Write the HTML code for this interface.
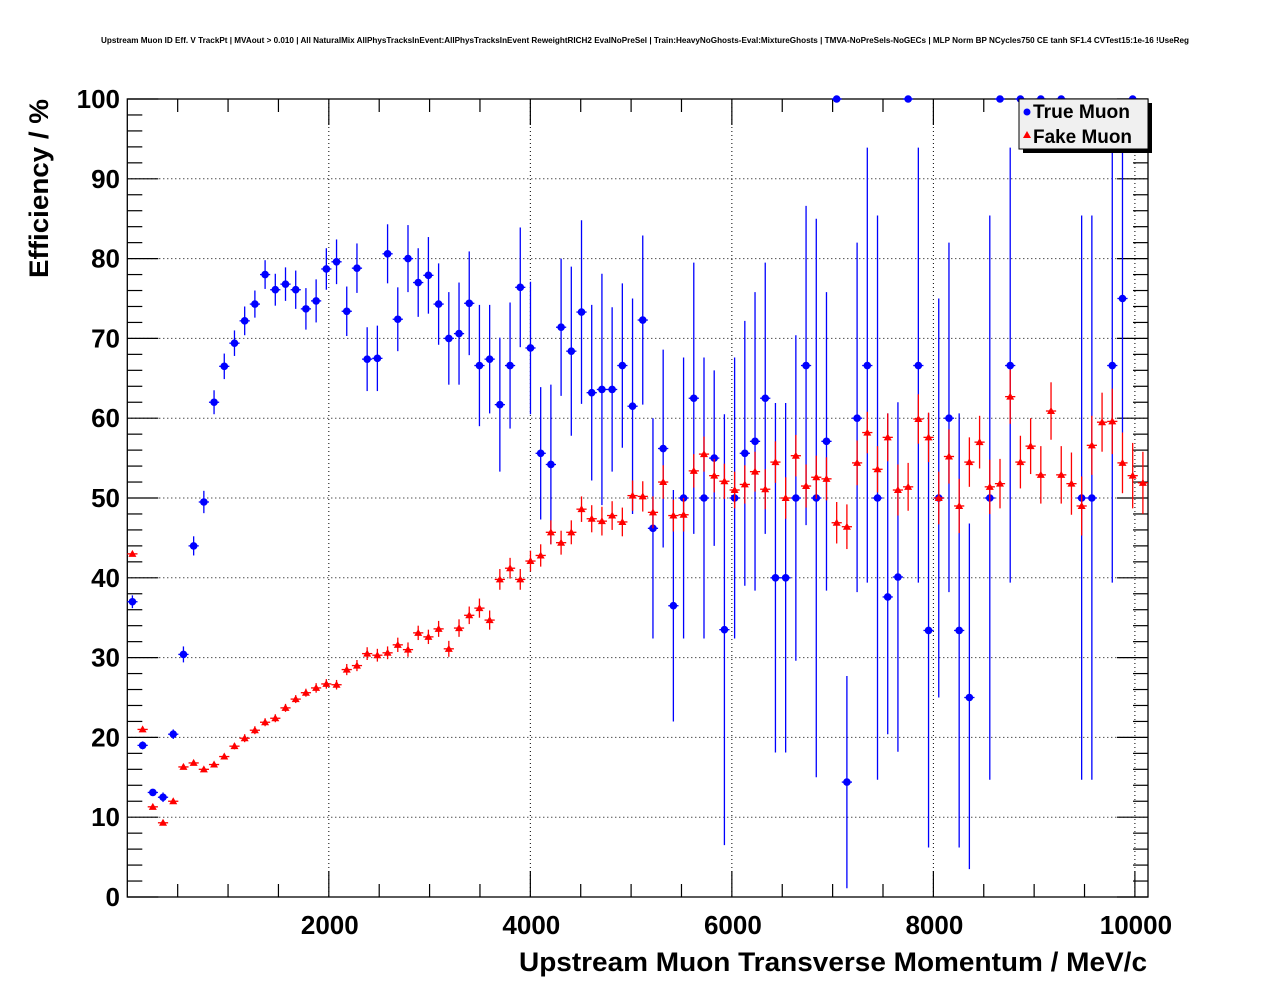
<!DOCTYPE html>
<html><head><meta charset="utf-8"><style>
html,body{margin:0;padding:0;background:#fff;}
svg{display:block;font-family:"Liberation Sans",Arial,sans-serif;}
</style></head><body>
<svg id="chart" width="1276" height="996" viewBox="0 0 1276 996" xmlns="http://www.w3.org/2000/svg">
<rect x="0" y="0" width="1276" height="996" fill="#fff"/>
<text x="645" y="43" font-size="8" font-weight="bold" text-anchor="middle" textLength="1088" lengthAdjust="spacingAndGlyphs">Upstream Muon ID Eff. V TrackPt | MVAout &gt; 0.010 | All NaturalMix AllPhysTracksInEvent:AllPhysTracksInEvent ReweightRICH2 EvalNoPreSel | Train:HeavyNoGhosts-Eval:MixtureGhosts | TMVA-NoPreSels-NoGECs | MLP Norm BP NCycles750 CE tanh SF1.4 CVTest15:1e-16 !UseReg</text>
<g id="grid"></g>
<g id="axes"></g>
<g id="series"></g>
<text x="519" y="971" font-size="27" font-weight="bold" textLength="628" lengthAdjust="spacingAndGlyphs">Upstream Muon Transverse Momentum / MeV/c</text>
<text transform="translate(48,278) rotate(-90)" font-size="27" font-weight="bold" textLength="179" lengthAdjust="spacingAndGlyphs">Efficiency / %</text>
<g>
<rect x="1023" y="103" width="129" height="50" fill="#000"/>
<rect x="1019" y="99" width="129" height="50" fill="#f0f0f0" stroke="#000" stroke-width="1"/>
<circle cx="1027" cy="112" r="3.5" fill="#0000ff"/>
<text x="1033" y="118" font-size="19" font-weight="bold" textLength="97" lengthAdjust="spacingAndGlyphs">True Muon</text>
<polygon points="1023,138 1031,138 1027,131" fill="#ff0000"/>
<text x="1033" y="143" font-size="19" font-weight="bold" textLength="99" lengthAdjust="spacingAndGlyphs">Fake Muon</text>
</g>
</svg>
<script>
const xTicks=[2000,4000,6000,8000,10000];
const yTicks=[0,10,20,30,40,50,60,70,80,90,100];
const trueVal=[37.0,19.0,13.1,12.5,20.4,30.4,44.0,49.5,62.0,66.5,69.4,72.2,74.3,78.0,76.1,76.8,76.1,73.7,74.7,78.7,79.6,73.4,78.8,67.4,67.5,80.6,72.4,80.0,77.0,77.9,74.3,70.0,70.6,74.4,66.6,67.4,61.7,66.6,76.4,68.8,
55.6,54.2,71.4,68.4,73.3,63.2,63.6,63.6,66.6,61.5,72.3,46.2,56.2,36.5,50,62.5,50,55.0,33.5,50,55.6,57.1,62.5,40,40,50,66.6,50,57.1,
100,14.4,60,66.6,50,37.6,40.1,100,66.6,33.4,50,60,33.4,25,null,50,100,66.6,100,null,100,null,100,null,50,50,null,66.6,75,100,null];
const trueErrHi=[0.8,0.5,0.4,0.6,0.6,1.0,1.2,1.4,1.5,1.6,1.6,1.8,1.7,1.8,2.0,2.1,2.4,2.6,2.7,2.6,2.8,3.1,3.1,4.0,4.1,3.7,4.0,4.2,4.3,4.8,5.1,5.8,6.4,6.5,7.6,6.8,8.4,7.9,7.5,8.3,
8.3,10,8.6,10.6,11.5,11,14.5,10.3,10.3,13.5,10.6,13.8,12.4,14.5,17.6,17,17.6,11,27,17.6,16.6,18.7,17,21.9,21.9,20.4,20,35,18.7,
0,13.3,22,27.3,35.4,23,21.9,0,27.3,27.2,25,22,27.2,21.8,0,35.4,0,27.3,0,0,0,0,0,0,35.4,35.4,0,33.4,25,0,0];
const trueErrLo=[0.8,0.5,0.4,0.6,0.6,1.0,1.2,1.4,1.5,1.6,1.6,1.8,1.7,1.8,2.0,2.1,2.4,2.6,2.7,2.6,2.8,3.1,3.1,4.0,4.1,3.7,4.0,4.2,4.3,4.8,5.1,5.8,6.4,6.5,7.6,6.8,8.4,7.9,7.5,8.3,
8.3,10,8.6,10.6,11.5,11,14.5,10.3,10.3,13.5,10.6,13.8,12.4,14.5,17.6,17,17.6,11,27,17.6,16.6,18.7,17,21.9,21.9,20.4,20,35,18.7,
0,13.3,21.8,27.2,35.3,17.2,21.9,0,27.2,27.2,25,21.8,27.2,21.5,0,35.3,0,27.2,0,0,0,0,0,0,35.3,35.3,0,27.2,16.8,0,0];
const fakeVal=[43.0,21.0,11.3,9.3,12.0,16.3,16.8,16.0,16.6,17.6,18.9,19.9,20.9,21.9,22.4,23.7,24.8,25.6,26.2,26.7,26.6,28.5,29.0,30.5,30.3,30.6,31.6,31.0,33.1,32.6,33.6,31.1,33.7,35.3,36.2,34.7,39.8,41.2,39.8,42.1,
42.8,45.7,44.4,45.7,48.6,47.4,47.1,47.8,47.0,50.3,50.2,48.2,52.0,47.8,47.9,53.4,55.5,52.8,52.1,51.0,51.7,53.3,51.1,54.5,50,55.3,51.5,52.6,52.4,
46.9,46.4,54.4,58.2,53.6,57.6,51.0,51.4,59.9,57.6,50,55.2,49.0,54.5,57.0,51.4,51.8,62.7,54.5,56.5,52.9,60.9,52.9,51.8,49.0,56.6,59.5,59.6,54.4,52.8,51.9];
const fakeErr=[0.3,0.3,0.3,0.3,0.3,0.3,0.3,0.3,0.3,0.3,0.4,0.5,0.5,0.5,0.5,0.5,0.5,0.5,0.6,0.6,0.6,0.7,0.7,0.8,0.8,0.8,0.9,0.9,0.9,0.9,1.0,1.0,1.1,1.1,1.2,1.2,1.3,1.3,1.3,1.3,
1.4,1.5,1.5,1.5,1.6,1.7,1.8,1.8,1.8,1.9,1.9,2.0,2.1,2.0,2.1,2.1,2.2,2.1,2.2,2.3,2.4,2.5,2.5,2.6,2.6,2.6,2.7,2.7,2.7,
2.6,2.8,2.8,2.6,2.9,3.0,3.2,3.0,3.1,3.1,3.3,3.4,3.4,3.1,3.3,3.4,3.1,3.4,3.3,3.5,3.6,3.6,3.6,3.9,3.7,3.7,3.7,4.1,3.8,4.1,3.9];
const binWidth=101.3;

const NS='http://www.w3.org/2000/svg';
const L=127.3,R=1148,T=99,B=897,XMAX=10130;
const X=v=>L+v*(R-L)/XMAX;
const Y=v=>B-v*(B-T)/100;
function mk(tag,attrs,parent){const e=document.createElementNS(NS,tag);for(const k in attrs)e.setAttribute(k,attrs[k]);parent.appendChild(e);return e;}
const grid=document.getElementById('grid'),axes=document.getElementById('axes'),series=document.getElementById('series');

xTicks.forEach(t=>{const l=mk('line',{x1:X(t),x2:X(t),y1:T,y2:B,stroke:'#000','stroke-width':1,'stroke-dasharray':'1,3'},grid);

});
yTicks.filter(t=>t>0&&t<100).forEach(t=>{const l=mk('line',{x1:L,x2:R,y1:Y(t),y2:Y(t),stroke:'#000','stroke-width':1,'stroke-dasharray':'1,3'},grid);

});

const frame=mk('rect',{x:L,y:T,width:R-L,height:B-T,fill:'none',stroke:'#000','stroke-width':1.3},axes);


for(let v=0;v<=100;v+=2){const maj=v%10===0;const len=maj?31:15;
mk('line',{x1:L,x2:L+len,y1:Y(v),y2:Y(v),stroke:'#000','stroke-width':1.2},axes);
mk('line',{x1:R-len,x2:R,y1:Y(v),y2:Y(v),stroke:'#000','stroke-width':1.2},axes);}
for(let v=500;v<=XMAX;v+=500){const maj=v%2000===0;const len=maj?26:13;
mk('line',{x1:X(v),x2:X(v),y1:B-len,y2:B,stroke:'#000','stroke-width':1.2},axes);
mk('line',{x1:X(v),x2:X(v),y1:T,y2:T+len,stroke:'#000','stroke-width':1.2},axes);}
yTicks.forEach(t=>{const tx=mk('text',{x:120,y:Y(t)+9,'font-size':26,'font-weight':'bold','text-anchor':'end'},axes);tx.textContent=t;

});
xTicks.forEach(t=>{const tx=mk('text',{x:X(t)+1,y:934,'font-size':26,'font-weight':'bold','text-anchor':'middle'},axes);tx.textContent=t;

});

function clampY(v){return Math.max(T,Math.min(B,Y(v)));}
trueVal.forEach((v,i)=>{if(v===null)return;const cx=X((i+0.5)*binWidth),cy=Y(v);
const g=mk('g',{},series);


mk('line',{x1:X(i*binWidth),x2:X((i+1)*binWidth),y1:cy,y2:cy,stroke:'#0000ff','stroke-width':1.3},g);
if(trueErrHi[i]+trueErrLo[i]>0)mk('line',{x1:cx,x2:cx,y1:clampY(v+trueErrHi[i]),y2:clampY(v-trueErrLo[i]),stroke:'#0000ff','stroke-width':1.3},g);
mk('circle',{cx:cx,cy:cy,r:3.8,fill:'#0000ff'},g);});
fakeVal.forEach((v,i)=>{if(v===null)return;const cx=X((i+0.5)*binWidth),cy=Y(v);
const g=mk('g',{},series);


mk('line',{x1:X(i*binWidth),x2:X((i+1)*binWidth),y1:cy,y2:cy,stroke:'#ff0000','stroke-width':1.3},g);
mk('line',{x1:cx,x2:cx,y1:clampY(v+fakeErr[i]),y2:clampY(v-fakeErr[i]),stroke:'#ff0000','stroke-width':1.3},g);
mk('polygon',{points:`${cx-4},${cy+3} ${cx+4},${cy+3} ${cx},${cy-4}`,fill:'#ff0000'},g);});
</script>
</body></html>
